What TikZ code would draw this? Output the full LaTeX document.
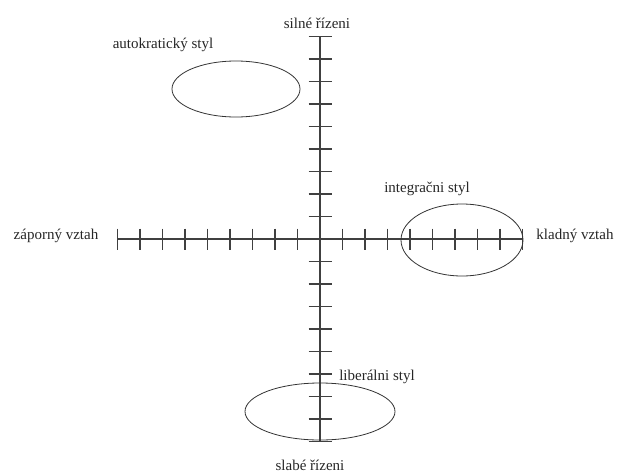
\documentclass[tikz,border=0pt]{standalone}
\usepackage{fontspec}
\setmainfont{Liberation Serif}
\usetikzlibrary{shapes.geometric}
\begin{document}
\begin{tikzpicture}[x=1pt,y=-1pt,
  axis/.style={line width=1.3pt,draw=black!75},
  tick/.style={line width=1.1pt,draw=black!75},
  zone/.style={ellipse,draw=black!80,line width=0.8pt,inner sep=0pt},
  lbl/.style={inner sep=0pt,font=\fontsize{15}{17}\selectfont,text=black!85}]
\useasboundingbox (0,0) rectangle (619,472);
\coordinate (O) at (320,239);
\coordinate (L) at (117.5,239);
\coordinate (R) at (522.5,239);
\coordinate (T) at (320,36.5);
\coordinate (B) at (320,441.5);
\draw[axis] (L) -- (R);
\draw[axis] (T) -- (B);
\foreach \i in {1,...,9}{
  \draw[tick] ([shift={(-22.5*\i,-10.5)}]O) -- ([shift={(-22.5*\i,10.5)}]O);
  \draw[tick] ([shift={(22.5*\i,-10.5)}]O) -- ([shift={(22.5*\i,10.5)}]O);
  \draw[tick] ([shift={(-11.5,-22.5*\i)}]O) -- ([shift={(11.5,-22.5*\i)}]O);
  \draw[tick] ([shift={(-11.5,22.5*\i)}]O) -- ([shift={(11.5,22.5*\i)}]O);
}
\node[zone,minimum width=128pt,minimum height=56pt] (auto) at (236,89) {};
\node[zone,minimum width=122pt,minimum height=72pt] (integ) at (462,240) {};
\node[zone,minimum width=150pt,minimum height=57pt] (liber) at (320,411.5) {};
\node[lbl] (top) at (317,23) {silné řízeni};
\node[lbl] (bot) at (310,465) {slabé řízeni};
\node[lbl] (left) at (56,236) {záporný vztah};
\node[lbl] (right) at (575,236) {kladný vztah};
\node[lbl] (la) at (163,45) {autokratický styl};
\node[lbl] (li) at (427,189) {integračni styl};
\node[lbl] (ll) at (377,377) {liberálni styl};
\end{tikzpicture}
\end{document}
